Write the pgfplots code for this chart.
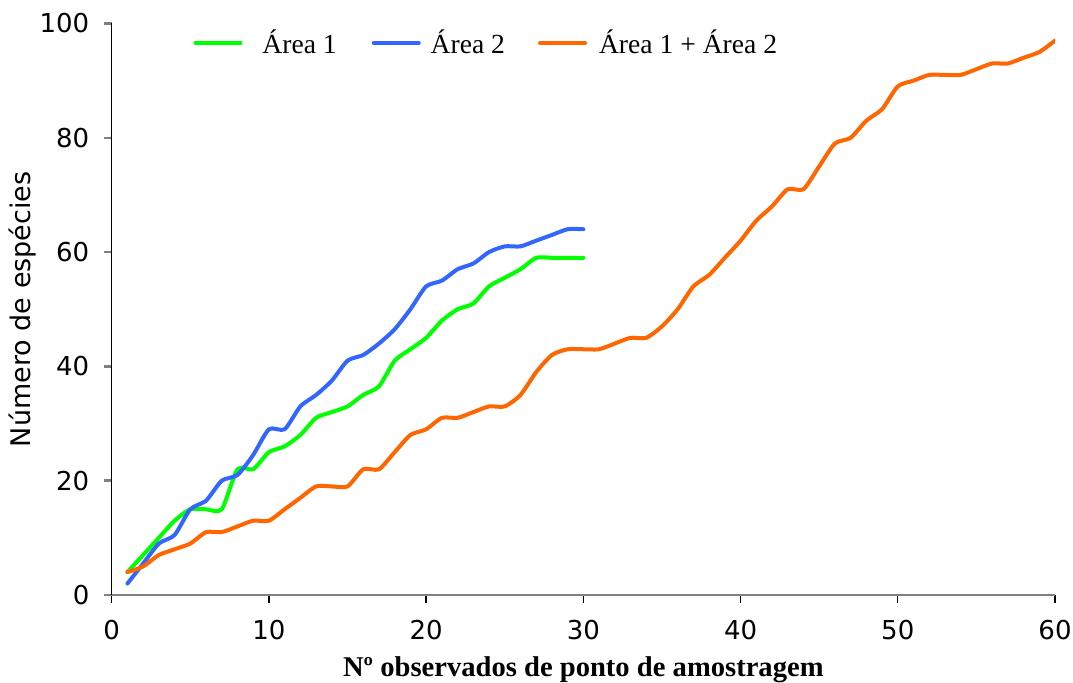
\documentclass[border=0pt]{standalone}
\usepackage{fontspec}
\setmainfont{Liberation Serif}
\newfontfamily\dejavu{DejaVu Sans}
\usepackage{pgfplots}
\pgfplotsset{compat=1.18}
\usetikzlibrary{calc}
\definecolor{cgreen}{RGB}{0,255,0}
\definecolor{cblue}{RGB}{51,102,255}
\definecolor{corange}{RGB}{255,102,0}
\definecolor{axgray}{RGB}{128,128,128}
\begin{document}
\begin{tikzpicture}
\begin{axis}[
  scale only axis,
  width=471.65pt, height=285.75pt,
  xmin=0, xmax=60, ymin=0, ymax=100,
  axis x line*=bottom, axis y line*=left,
  x axis line style={axgray, line width=1.2pt},
  y axis line style={black, line width=0.65pt},
  xtick={0,10,...,60}, ytick={0,20,...,100},
  tick align=outside,
  major tick length=4pt,
  xtick style={black, line width=0.65pt},
  ytick style={axgray, line width=1.2pt},
  /pgf/number format/assume math mode=true,
  ticklabel style={font=\dejavu\fontsize{13}{15}\selectfont, text=black},
  xticklabel style={anchor=base, inner sep=0pt, yshift=-18pt},
  yticklabel style={anchor=east, inner sep=0pt, xshift=-7pt},
  xlabel={\bfseries Nº observados de ponto de amostragem},
  xlabel style={font=\fontsize{14.3}{16}\selectfont, at={(axis description cs:0.5,0)}, anchor=base, yshift=-40.5pt},
  ylabel={Número de espécies},
  ylabel style={font=\dejavu\fontsize{13.5}{15}\selectfont, at={(axis description cs:0,0.5)}, anchor=base, yshift=40.6pt},
  legend columns=3,
  legend style={draw=none, fill=none, at={(axis cs:4.79,96.6)}, anchor=west,
    font=\fontsize{13.8}{16}\selectfont,
    nodes={inner sep=0pt},
    /tikz/column 1/.style={column sep=10pt},
    /tikz/column 2/.style={column sep=17.5pt},
    /tikz/column 3/.style={column sep=5pt},
    /tikz/column 4/.style={column sep=16.5pt},
    /tikz/column 5/.style={column sep=6pt}},
  legend image code/.code={\draw[#1] (0pt,0pt) -- (22.5pt,0pt);},
  every axis plot/.append style={line width=2pt, smooth, tension=0.4, line join=round, line cap=round},
]
\addplot[cgreen] coordinates {
(1,4) (2,7) (3,10) (4,13) (5,15) (6,15) (7,15) (8,22) (9,22) (10,25)
(11,26) (12,28) (13,31) (14,32) (15,33) (16,35) (17,36.5) (18,41) (19,43) (20,45)
(21,48) (22,50) (23,51) (24,54) (25,55.5) (26,57) (27,59) (28,59) (29,59) (30,59)};
\addlegendentry{Área 1}
\addplot[cblue] coordinates {
(1,2) (2,5.5) (3,9) (4,10.5) (5,15) (6,16.5) (7,20) (8,21) (9,24.5) (10,29)
(11,29) (12,33) (13,35) (14,37.5) (15,41) (16,42) (17,44) (18,46.5) (19,50) (20,54)
(21,55) (22,57) (23,58) (24,60) (25,61) (26,61) (27,62) (28,63) (29,64) (30,64)};
\addlegendentry{Área 2}
\addplot[corange] coordinates {
(1,4) (2,5) (3,7) (4,8) (5,9) (6,11) (7,11) (8,12) (9,13) (10,13)
(11,15) (12,17) (13,19) (14,19) (15,19) (16,22) (17,22) (18,25) (19,28) (20,29)
(21,31) (22,31) (23,32) (24,33) (25,33) (26,35) (27,39) (28,42) (29,43) (30,43)
(31,43) (32,44) (33,45) (34,45) (35,47) (36,50) (37,54) (38,56) (39,59) (40,62)
(41,65.5) (42,68) (43,71) (44,71) (45,75) (46,79) (47,80) (48,83) (49,85) (50,89)
(51,90) (52,91) (53,91) (54,91) (55,92) (56,93) (57,93) (58,94) (59,95) (60,97)};
\addlegendentry{Área 1 + Área 2}
\coordinate (O) at (axis cs:0,0);
\coordinate (T) at (axis cs:60,100);
\end{axis}
\pgfresetboundingbox
\path[use as bounding box] ($(O)+(-55.85pt,-44pt)$) rectangle ($(T)+(9pt,11.75pt)$);
\end{tikzpicture}
\end{document}
